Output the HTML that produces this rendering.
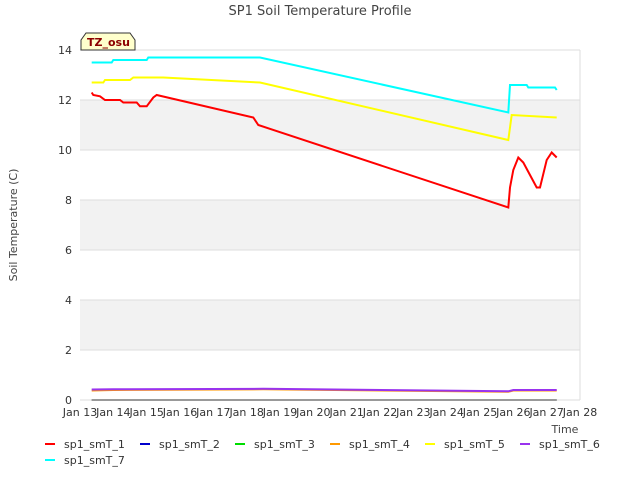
<!DOCTYPE html>
<html><head><meta charset="utf-8"><style>
body{margin:0;background:#fff;font-family:"Liberation Sans","DejaVu Sans",sans-serif;}
svg text{font-family:"DejaVu Sans","Liberation Sans",sans-serif;}
</style></head><body>
<svg id="c" width="640" height="480" xmlns="http://www.w3.org/2000/svg">
<text x="320" y="15" text-anchor="middle" font-size="13" fill="#444">SP1 Soil Temperature Profile</text>
<text x="17" y="225" text-anchor="middle" font-size="11" fill="#444" transform="rotate(-90 17 225)">Soil Temperature (C)</text>
<text x="565" y="433" text-anchor="middle" font-size="11" fill="#444">Time</text>
<g id="plot"></g>
<g>
<path d="M81,40 L86,33 L130,33 L135,40 L135,50 L81,50 Z" fill="#ffffcc" stroke="#333"/>
<text x="87" y="46" font-size="11" font-weight="bold" fill="#8b0000">TZ_osu</text>
</g>
<g id="legend"></g>
</svg>
<script>
const yTicks=[0,2,4,6,8,10,12,14];
const xTickLabels=["Jan 13","Jan 14","Jan 15","Jan 16","Jan 17","Jan 18","Jan 19","Jan 20","Jan 21","Jan 22","Jan 23","Jan 24","Jan 25","Jan 26","Jan 27","Jan 28"];
const seriesNames=["sp1_smT_1","sp1_smT_2","sp1_smT_3","sp1_smT_4","sp1_smT_5","sp1_smT_6","sp1_smT_7"];
const seriesColors=["#ff0000","#0000cc","#00dd00","#ff9900","#ffff00","#9933ee","#00ffff"];
const t1=[0.35,0.4,0.6,0.75,1.2,1.3,1.7,1.8,2.0,2.2,2.3,5.2,5.35,12.85,12.9,13.0,13.15,13.3,13.5,13.7,13.8,14.0,14.15,14.3];
const v1=[12.3,12.2,12.15,12.0,12.0,11.9,11.9,11.75,11.75,12.1,12.2,11.3,11.0,7.7,8.5,9.2,9.7,9.5,9.0,8.5,8.5,9.6,9.9,9.7];
const t0=[0.35,14.3];
const v2=[0,0];
const v3=[0,0];
const t4=[0.35,1.0,5.5,12.85,13.0,14.3];
const v4=[0.38,0.4,0.43,0.33,0.38,0.38];
const t5=[0.35,0.7,0.75,1.5,1.6,2.5,5.4,12.85,12.95,14.3];
const v5=[12.7,12.7,12.8,12.8,12.9,12.9,12.7,10.4,11.4,11.3];
const t6=[0.35,1.0,5.5,12.85,13.0,14.3];
const v6=[0.42,0.43,0.45,0.35,0.4,0.4];
const t7=[0.35,0.95,1.0,2.0,2.05,5.4,12.85,12.9,13.4,13.45,14.25,14.3];
const v7=[13.5,13.5,13.6,13.6,13.7,13.7,11.5,12.6,12.6,12.5,12.5,12.4];
const seriesT=[t1,t0,t0,t4,t5,t6,t7];
const seriesV=[v1,v2,v3,v4,v5,v6,v7];
const X0=80,X1=580,Y0=400,Y1=50;
const xs=d=>X0+d*(X1-X0)/15;
const ys=v=>Y0-v*(Y0-Y1)/14;
const NS="http://www.w3.org/2000/svg";
const plot=document.getElementById('plot');
function mk(tag,at,parent){const e=document.createElementNS(NS,tag);for(const k in at)e.setAttribute(k,at[k]);parent.appendChild(e);return e;}
for(let i=0;i<yTicks.length-1;i++){
  if(i%2===1){const r=mk('rect',{x:X0,y:ys(yTicks[i+1]),width:X1-X0,height:ys(yTicks[i])-ys(yTicks[i+1]),fill:'#f2f2f2'},plot);
  
  }
}
yTicks.forEach(v=>{
  const l=mk('line',{x1:X0,x2:X1,y1:ys(v),y2:ys(v),stroke:'#dddddd'},plot);
  
  
  const t=mk('text',{x:X0-8,y:ys(v)+4,'text-anchor':'end','font-size':'11',fill:'#333'},plot);t.textContent=v;
  
  
});
mk('line',{x1:X1,x2:X1,y1:Y1,y2:Y0,stroke:'#dddddd'},plot);
xTickLabels.forEach((s,i)=>{
  const t=mk('text',{x:xs(i),y:Y0+16,'text-anchor':'middle','font-size':'11',fill:'#333'},plot);t.textContent=s;
  
  
});
const order=[1,2,3,5,4,0,6];
order.forEach(i=>{
  const pts=seriesT[i].map((d,j)=>xs(d).toFixed(1)+','+ys(seriesV[i][j]).toFixed(1)).join(' ');
  const p=mk('polyline',{points:pts,fill:'none',stroke:(i===1||i===2)?'#999':seriesColors[i],'stroke-width':'2'},plot);
  
  
});
const leg=document.getElementById('legend');
const lx=[45,140,235,330,425,520,45],ly=[444,444,444,444,444,444,460];
seriesNames.forEach((n,i)=>{
  const g=mk('g',{},leg);
  
  
  mk('line',{x1:lx[i],x2:lx[i]+10,y1:ly[i],y2:ly[i],stroke:seriesColors[i],'stroke-width':'2'},g);
  const t=mk('text',{x:lx[i]+19,y:ly[i]+4,'font-size':'11',fill:'#333'},g);t.textContent=n;
});
</script>
</body></html>
